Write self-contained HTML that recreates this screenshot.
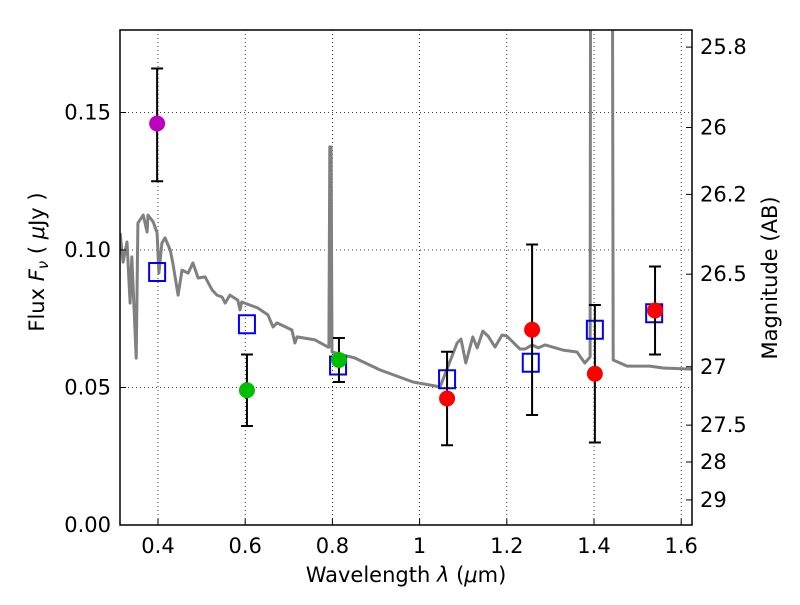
<!DOCTYPE html>
<html><head><meta charset="utf-8"><style>
body{margin:0;background:#fff}
svg text{font-family:"DejaVu Sans","Liberation Sans",sans-serif;fill:#000}
</style></head><body>
<svg id="chart" width="800" height="600" xmlns="http://www.w3.org/2000/svg">
<rect width="800" height="600" fill="#fff"/>
<g id="grid"></g>
<g id="spec"></g>
<g id="pts"></g>
<rect x="120" y="30" width="572" height="495" fill="none" stroke="#000" stroke-width="1.5"/>
<g id="axes"></g>
<text x="406" y="582" font-size="21" text-anchor="middle">Wavelength  <tspan font-style="italic">λ</tspan> (<tspan font-style="italic">μ</tspan>m)</text>
<text transform="translate(44,262) rotate(-90)" font-size="21" text-anchor="middle">Flux  <tspan font-style="italic">F<tspan font-size="15" dy="4">ν</tspan></tspan><tspan dy="-4">  (  </tspan><tspan font-style="italic">μ</tspan>Jy )</text>
<text transform="translate(777,278) rotate(-90)" font-size="21" text-anchor="middle">Magnitude (AB)</text>
</svg>
<script>
const xTicks=[0.4,0.6,0.8,1.0,1.2,1.4,1.6];
const xTickLabels=["0.4","0.6","0.8","1","1.2","1.4","1.6"];
const yTicks=[0,0.05,0.10,0.15];
const yTickLabels=["0.00","0.05","0.10","0.15"];
const magTicks=[25.8,26,26.2,26.5,27,27.5,28,29];
const magTickLabels=["25.8","26","26.2","26.5","27","27.5","28","29"];
const specX=[0.313,0.320,0.329,0.336,0.340,0.350,0.354,0.366,0.375,0.377,0.389,0.398,0.402,0.409,0.416,0.428,0.434,0.446,0.455,0.469,0.480,0.492,0.508,0.524,0.535,0.547,0.554,0.565,0.583,0.588,0.592,0.629,0.652,0.664,0.673,0.707,0.714,0.719,0.760,0.790,0.792,0.794,0.797,0.799,0.852,0.909,0.985,1.047,1.086,1.095,1.106,1.122,1.132,1.145,1.157,1.173,1.189,1.200,1.214,1.230,1.242,1.258,1.272,1.288,1.329,1.361,1.379,1.391,1.393,1.441,1.444,1.476,1.528,1.558,1.625];
const specY=[0.1062,0.0956,0.1029,0.0807,0.0975,0.0607,0.1098,0.1127,0.1065,0.1127,0.1102,0.1062,0.0916,0.1025,0.1044,0.1000,0.0953,0.0836,0.0927,0.0916,0.0953,0.0898,0.0902,0.0855,0.0836,0.0829,0.0807,0.0836,0.0818,0.0782,0.0811,0.0789,0.0764,0.0720,0.0735,0.0709,0.0662,0.0684,0.0673,0.0647,0.0647,0.1375,0.1375,0.0629,0.0607,0.0564,0.0520,0.0502,0.0662,0.0676,0.0589,0.0684,0.0644,0.0705,0.0687,0.0647,0.0691,0.0687,0.0665,0.0640,0.0640,0.0655,0.0644,0.0655,0.0636,0.0629,0.0589,0.0611,0.30,0.30,0.0600,0.0578,0.0578,0.0571,0.0567];
const bandX=[0.398,0.604,0.813,1.063,1.255,1.402,1.538];
const modelFlux=[0.092,0.073,0.058,0.053,0.059,0.071,0.077];
const obsX=[0.398,0.604,0.815,1.063,1.258,1.402,1.540];
const obsFlux=[0.146,0.049,0.060,0.046,0.071,0.055,0.078];
const obsLow=[0.125,0.036,0.052,0.029,0.040,0.030,0.062];
const obsHigh=[0.166,0.062,0.068,0.063,0.102,0.080,0.094];
const obsColor=["#bf00bf","#00bf00","#00bf00","#ff0000","#ff0000","#ff0000","#ff0000"];

const L=120,R=692,T=30,B=525;
const X=v=>158+(v-0.4)*436;
const Y=v=>B-v*2750;
const NS="http://www.w3.org/2000/svg";
function mk(tag,attrs,parent){const e=document.createElementNS(NS,tag);for(const k in attrs)e.setAttribute(k,attrs[k]);parent.appendChild(e);return e;}
const grid=document.getElementById('grid'),axes=document.getElementById('axes'),spec=document.getElementById('spec'),pts=document.getElementById('pts');

xTicks.forEach((t,i)=>{const x=X(t);
 const g=mk('line',{x1:x,x2:x,y1:T,y2:B,stroke:'#000','stroke-width':0.8,'stroke-dasharray':'1,3'},grid);
 
 
 const tk=mk('line',{x1:x,x2:x,y1:B,y2:B-6,stroke:'#000'},axes);
 
 
 const tx=mk('text',{x:x,y:553,'font-size':21,'text-anchor':'middle'},axes);tx.textContent=xTickLabels[i];
 
 
});
yTicks.forEach((t,i)=>{const y=Y(t);
 if(t>0){const g=mk('line',{x1:L,x2:R,y1:y,y2:y,stroke:'#000','stroke-width':0.8,'stroke-dasharray':'1,3'},grid);
 
 }
 const tk=mk('line',{x1:L,x2:L+6,y1:y,y2:y,stroke:'#000'},axes);
 
 
 const tx=mk('text',{x:111,y:y+7,'font-size':21,'text-anchor':'end'},axes);tx.textContent=yTickLabels[i];
 
 
});
magTicks.forEach((m,i)=>{const f=Math.pow(10,(23.9-m)/2.5);const y=Y(f);
 const tk=mk('line',{x1:R,x2:R-6,y1:y,y2:y,stroke:'#000'},axes);
 
 
 const tx=mk('text',{x:700,y:y+7,'font-size':21},axes);tx.textContent=magTickLabels[i];
 
 
});
const cp=mk('clipPath',{id:'clip'},spec);
mk('rect',{x:L,y:T,width:R-L,height:B-T},cp);
const d=specX.map((v,i)=>(i?'L':'M')+X(v).toFixed(1)+','+Y(specY[i]).toFixed(1)).join('');
const p=mk('path',{d:d,fill:'none',stroke:'#808080','stroke-width':3,'stroke-linejoin':'round','clip-path':'url(#clip)'},spec);



bandX.forEach((v,i)=>{const x=X(v),y=Y(modelFlux[i]);
 const s=mk('rect',{x:x-8,y:y-9,width:16,height:18,fill:'none',stroke:'#0000ff','stroke-width':2},pts);
 
 
});
obsX.forEach((v,i)=>{const x=X(v);
 const e=mk('path',{d:`M${x},${Y(obsLow[i])}V${Y(obsHigh[i])}M${x-6},${Y(obsLow[i])}h12M${x-6},${Y(obsHigh[i])}h12`,stroke:'#000','stroke-width':2,fill:'none'},pts);
 
 
 const c=mk('circle',{cx:x,cy:Y(obsFlux[i]),r:8,fill:obsColor[i]},pts);
 
 
});
</script>
</body></html>
